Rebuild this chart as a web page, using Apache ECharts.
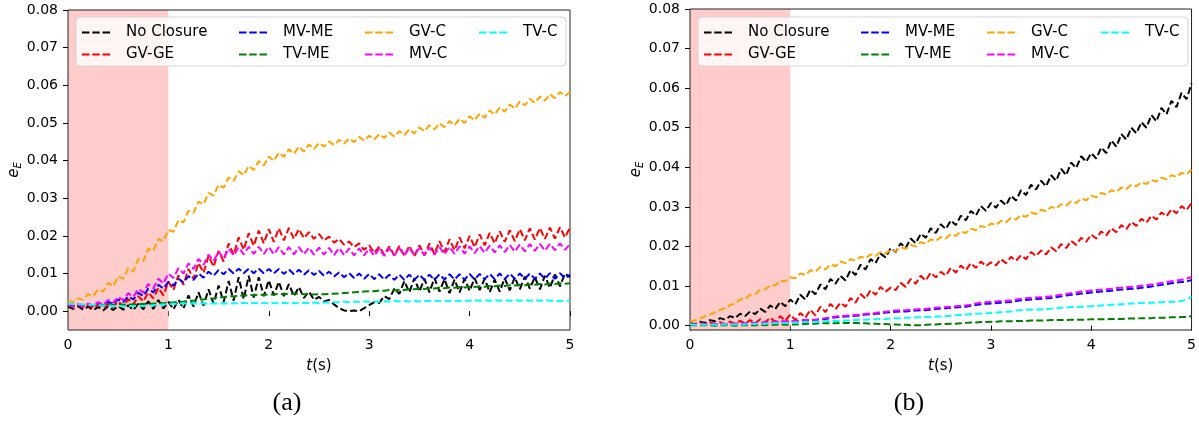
<!DOCTYPE html>
<html>
<head>
<meta charset="utf-8">
<script src="https://cdn.jsdelivr.net/npm/echarts@6/dist/echarts.min.js"></script>
<style>
  html, body { margin: 0; padding: 0; background: #fff; }
  #chart { width: 1199px; height: 425px; }
</style>
</head>
<body>
<div id="chart"></div>
<script>
// sampling grid, every 0.05 s from 0 to 5
const times = Array.from({ length: 101 }, (_, i) => +(i * 0.05).toFixed(2));
const xTicks = [0, 1, 2, 3, 4, 5];
const yTicks = [0, 0.01, 0.02, 0.03, 0.04, 0.05, 0.06, 0.07, 0.08];
const names = ['No Closure', 'GV-GE', 'MV-ME', 'TV-ME', 'GV-C', 'MV-C', 'TV-C'];
const colors = ['#000000', '#ff0000', '#0000ff', '#008000', '#ffa500', '#ff00ff', '#00ffff'];
const shadeRange = [0, 1];

// (a)
const leftNoClosure = [.0012,.0006,.0013,.0004,.0012,.0003,.0011,.0002,.0013,.0003,
  .0014,.0004,.0016,.0003,.0020,.0005,.0026,.0006,.0030,.0007,
  .0025,.0005,.0030,.0007,.0042,.0012,.0050,.0015,.0058,.0020,
  .0068,.0024,.0080,.0028,.0090,.0032,.0094,.0036,.0090,.0040,
  .0082,.0042,.0078,.0040,.0072,.0040,.0064,.0035,.0052,.0030,
  .0038,.0026,.0030,.0018,.0008,.0002,.0000,.0002,.0000,.0008,
  .0016,.0024,.0022,.0040,.0032,.0060,.0046,.0080,.0050,.0088,
  .0052,.0086,.0050,.0088,.0052,.0085,.0048,.0084,.0050,.0086,
  .0054,.0088,.0056,.0086,.0050,.0084,.0052,.0088,.0055,.0090,
  .0058,.0092,.0060,.0090,.0058,.0094,.0062,.0098,.0066,.0100,
  .0090];
const leftGVGE = [.0016,.0012,.0018,.0010,.0016,.0008,.0017,.0009,.0020,.0011,
  .0026,.0013,.0032,.0018,.0040,.0026,.0050,.0034,.0062,.0042,
  .0078,.0056,.0095,.0070,.0112,.0086,.0128,.0102,.0147,.0118,
  .0160,.0132,.0180,.0150,.0196,.0163,.0207,.0174,.0214,.0180,
  .0218,.0184,.0220,.0188,.0221,.0192,.0218,.0194,.0210,.0192,
  .0205,.0188,.0198,.0182,.0192,.0177,.0185,.0170,.0180,.0163,
  .0175,.0155,.0172,.0150,.0172,.0148,.0173,.0147,.0174,.0146,
  .0175,.0148,.0180,.0152,.0186,.0157,.0191,.0162,.0196,.0167,
  .0200,.0170,.0204,.0175,.0208,.0180,.0212,.0184,.0215,.0186,
  .0218,.0188,.0220,.0190,.0221,.0192,.0222,.0193,.0223,.0196,
  .0222];
const leftMVME = [.0017,.0014,.0018,.0013,.0019,.0014,.0021,.0016,.0025,.0019,
  .0031,.0024,.0039,.0031,.0049,.0040,.0060,.0050,.0070,.0060,
  .0078,.0068,.0086,.0076,.0093,.0083,.0100,.0089,.0105,.0094,
  .0109,.0098,.0112,.0100,.0113,.0101,.0113,.0101,.0113,.0101,
  .0112,.0100,.0112,.0099,.0111,.0098,.0110,.0097,.0109,.0096,
  .0107,.0094,.0105,.0092,.0103,.0090,.0101,.0088,.0100,.0086,
  .0099,.0085,.0098,.0084,.0097,.0083,.0097,.0083,.0097,.0083,
  .0097,.0083,.0097,.0083,.0098,.0084,.0098,.0084,.0098,.0084,
  .0099,.0084,.0099,.0085,.0099,.0085,.0100,.0085,.0100,.0086,
  .0100,.0086,.0100,.0086,.0100,.0086,.0101,.0086,.0101,.0087,
  .0097];
const leftTVME = [.0017,.0016,.0017,.0016,.0017,.0016,.0017,.0016,.0017,.0017,
  .0018,.0017,.0018,.0018,.0019,.0019,.0020,.0020,.0021,.0021,
  .0023,.0023,.0025,.0025,.0028,.0028,.0031,.0031,.0034,.0034,
  .0037,.0037,.0040,.0039,.0042,.0041,.0043,.0042,.0044,.0043,
  .0045,.0044,.0046,.0045,.0047,.0046,.0047,.0045,.0046,.0044,
  .0045,.0045,.0046,.0046,.0047,.0048,.0049,.0050,.0051,.0052,
  .0053,.0053,.0055,.0054,.0056,.0055,.0057,.0056,.0059,.0058,
  .0060,.0059,.0061,.0060,.0062,.0061,.0063,.0062,.0064,.0063,
  .0065,.0064,.0066,.0065,.0067,.0066,.0068,.0067,.0069,.0068,
  .0070,.0069,.0071,.0070,.0072,.0071,.0073,.0072,.0074,.0073,
  .0074];
const leftGVC = [.0028,.0024,.0034,.0030,.0045,.0040,.0058,.0052,.0075,.0066,
  .0093,.0086,.0114,.0106,.0139,.0133,.0166,.0160,.0192,.0186,
  .0216,.0211,.0242,.0236,.0267,.0261,.0291,.0284,.0314,.0307,
  .0336,.0328,.0355,.0346,.0372,.0361,.0386,.0375,.0399,.0387,
  .0411,.0399,.0421,.0410,.0430,.0418,.0437,.0424,.0443,.0431,
  .0447,.0437,.0451,.0441,.0455,.0445,.0459,.0449,.0463,.0453,
  .0466,.0456,.0470,.0460,.0474,.0464,.0478,.0468,.0483,.0472,
  .0488,.0478,.0494,.0483,.0499,.0489,.0505,.0494,.0511,.0500,
  .0518,.0507,.0525,.0514,.0533,.0522,.0541,.0530,.0549,.0538,
  .0557,.0547,.0564,.0553,.0570,.0559,.0576,.0566,.0582,.0571,
  .0583];
const leftMVC = [.0017,.0013,.0018,.0012,.0020,.0014,.0024,.0017,.0030,.0022,
  .0038,.0029,.0048,.0038,.0059,.0049,.0072,.0061,.0086,.0074,
  .0100,.0088,.0114,.0100,.0127,.0112,.0139,.0123,.0150,.0133,
  .0158,.0140,.0166,.0148,.0170,.0151,.0171,.0152,.0171,.0152,
  .0171,.0151,.0170,.0151,.0170,.0151,.0170,.0151,.0169,.0150,
  .0169,.0150,.0168,.0149,.0168,.0149,.0167,.0148,.0167,.0148,
  .0166,.0147,.0166,.0147,.0167,.0148,.0167,.0148,.0168,.0149,
  .0168,.0149,.0169,.0150,.0170,.0151,.0171,.0152,.0172,.0153,
  .0172,.0154,.0173,.0155,.0174,.0156,.0175,.0157,.0176,.0158,
  .0177,.0159,.0178,.0160,.0179,.0161,.0179,.0162,.0180,.0163,
  .0178];
const leftTVC = [.0020,.0019,.0019,.0018,.0017,.0017,.0016,.0015,.0015,.0014,
  .0014,.0013,.0013,.0013,.0014,.0014,.0015,.0016,.0017,.0018,
  .0019,.0020,.0020,.0021,.0020,.0021,.0020,.0021,.0020,.0021,
  .0020,.0021,.0020,.0021,.0021,.0022,.0021,.0022,.0021,.0022,
  .0021,.0022,.0021,.0022,.0021,.0022,.0021,.0022,.0022,.0023,
  .0022,.0023,.0023,.0024,.0024,.0025,.0024,.0025,.0025,.0026,
  .0025,.0026,.0025,.0026,.0026,.0027,.0026,.0027,.0026,.0027,
  .0026,.0027,.0027,.0028,.0027,.0028,.0027,.0028,.0027,.0028,
  .0028,.0029,.0028,.0029,.0028,.0029,.0028,.0029,.0028,.0029,
  .0028,.0029,.0028,.0029,.0028,.0029,.0028,.0028,.0027,.0028,
  .0028];

// (b)
const rightNoClosure = [.0006,.0004,.0010,.0007,.0014,.0011,.0019,.0015,.0024,.0019,
  .0030,.0024,.0036,.0029,.0043,.0035,.0051,.0042,.0060,.0049,
  .0066,.0054,.0078,.0066,.0091,.0079,.0104,.0092,.0118,.0106,
  .0126,.0114,.0140,.0128,.0154,.0142,.0168,.0158,.0182,.0172,
  .0196,.0186,.0208,.0196,.0220,.0208,.0232,.0222,.0246,.0234,
  .0256,.0244,.0266,.0254,.0278,.0266,.0290,.0278,.0302,.0290,
  .0310,.0298,.0316,.0304,.0328,.0316,.0342,.0330,.0356,.0344,
  .0366,.0352,.0380,.0366,.0396,.0380,.0412,.0398,.0428,.0414,
  .0436,.0422,.0450,.0436,.0468,.0452,.0484,.0470,.0500,.0486,
  .0514,.0500,.0532,.0516,.0550,.0534,.0568,.0552,.0588,.0572,
  .0612];
const rightGVGE = [.0006,.0003,.0007,.0004,.0008,.0004,.0009,.0004,.0010,.0005,
  .0012,.0005,.0014,.0006,.0016,.0008,.0020,.0010,.0024,.0012,
  .0028,.0014,.0032,.0020,.0040,.0026,.0048,.0034,.0055,.0042,
  .0058,.0048,.0070,.0058,.0080,.0068,.0090,.0078,.0098,.0086,
  .0096,.0090,.0108,.0098,.0118,.0106,.0126,.0114,.0134,.0122,
  .0136,.0126,.0146,.0134,.0152,.0140,.0158,.0146,.0162,.0150,
  .0160,.0152,.0168,.0158,.0174,.0164,.0178,.0168,.0186,.0176,
  .0190,.0180,.0198,.0188,.0206,.0196,.0214,.0204,.0222,.0212,
  .0230,.0220,.0238,.0228,.0246,.0236,.0254,.0244,.0262,.0252,
  .0270,.0260,.0278,.0268,.0286,.0276,.0294,.0284,.0302,.0292,
  .0310];
const rightMVME = [.0003,.0003,.0003,.0003,.0004,.0003,.0004,.0004,.0004,.0004,
  .0005,.0005,.0006,.0005,.0007,.0007,.0008,.0008,.0010,.0010,
  .0011,.0011,.0012,.0013,.0014,.0014,.0016,.0017,.0019,.0021,
  .0022,.0023,.0024,.0025,.0026,.0028,.0029,.0030,.0031,.0033,
  .0034,.0035,.0036,.0036,.0037,.0038,.0039,.0039,.0041,.0042,
  .0043,.0044,.0045,.0046,.0047,.0048,.0050,.0052,.0054,.0055,
  .0056,.0057,.0058,.0059,.0060,.0062,.0064,.0065,.0066,.0067,
  .0068,.0069,.0070,.0072,.0074,.0076,.0078,.0079,.0081,.0082,
  .0084,.0085,.0086,.0087,.0088,.0090,.0091,.0092,.0093,.0094,
  .0096,.0097,.0099,.0101,.0103,.0105,.0107,.0109,.0110,.0112,
  .0115];
const rightTVME = [.0001,.0001,.0001,.0001,.0001,.0000,.0001,.0001,.0001,.0000,
  .0001,.0001,.0001,.0001,.0002,.0001,.0002,.0002,.0003,.0002,
  .0003,.0003,.0004,.0004,.0005,.0005,.0006,.0006,.0006,.0006,
  .0007,.0007,.0007,.0007,.0006,.0006,.0005,.0005,.0004,.0004,
  .0003,.0003,.0002,.0002,.0001,.0001,.0001,.0002,.0003,.0003,
  .0004,.0004,.0005,.0005,.0006,.0007,.0008,.0008,.0009,.0009,
  .0010,.0010,.0011,.0011,.0011,.0012,.0012,.0012,.0013,.0013,
  .0013,.0013,.0014,.0014,.0014,.0014,.0015,.0015,.0015,.0015,
  .0016,.0016,.0016,.0016,.0017,.0017,.0017,.0018,.0018,.0018,
  .0019,.0019,.0019,.0020,.0020,.0020,.0021,.0021,.0022,.0022,
  .0024];
const rightGVC = [.0010,.0014,.0018,.0024,.0028,.0034,.0040,.0044,.0052,.0056,
  .0066,.0068,.0078,.0080,.0090,.0092,.0102,.0102,.0113,.0112,
  .0122,.0120,.0132,.0128,.0140,.0136,.0148,.0142,.0155,.0150,
  .0162,.0158,.0168,.0164,.0174,.0170,.0180,.0176,.0186,.0182,
  .0192,.0188,.0198,.0194,.0204,.0200,.0211,.0207,.0218,.0214,
  .0224,.0220,.0231,.0227,.0238,.0234,.0245,.0241,.0252,.0248,
  .0258,.0254,.0265,.0261,.0272,.0268,.0279,.0275,.0286,.0282,
  .0293,.0289,.0300,.0296,.0307,.0303,.0314,.0310,.0321,.0317,
  .0328,.0324,.0335,.0331,.0342,.0338,.0349,.0345,.0356,.0352,
  .0362,.0358,.0368,.0364,.0374,.0370,.0380,.0376,.0386,.0382,
  .0394];
const rightMVC = [.0004,.0003,.0004,.0003,.0004,.0004,.0005,.0004,.0005,.0005,
  .0006,.0005,.0007,.0006,.0008,.0008,.0009,.0009,.0011,.0011,
  .0012,.0012,.0014,.0014,.0015,.0015,.0017,.0019,.0021,.0023,
  .0024,.0025,.0026,.0027,.0028,.0030,.0031,.0032,.0034,.0035,
  .0037,.0038,.0039,.0039,.0040,.0041,.0042,.0042,.0044,.0045,
  .0046,.0047,.0048,.0049,.0050,.0051,.0053,.0056,.0058,.0059,
  .0060,.0061,.0062,.0063,.0064,.0066,.0068,.0069,.0070,.0071,
  .0072,.0073,.0074,.0076,.0078,.0080,.0082,.0084,.0086,.0087,
  .0089,.0090,.0091,.0092,.0093,.0095,.0096,.0097,.0098,.0099,
  .0101,.0102,.0104,.0106,.0108,.0110,.0112,.0114,.0116,.0119,
  .0123];
const rightTVC = [.0003,.0002,.0003,.0002,.0003,.0002,.0003,.0003,.0003,.0003,
  .0003,.0003,.0004,.0004,.0005,.0005,.0006,.0006,.0007,.0007,
  .0007,.0008,.0008,.0009,.0009,.0010,.0011,.0011,.0012,.0012,
  .0012,.0013,.0013,.0014,.0015,.0015,.0016,.0016,.0017,.0017,
  .0018,.0019,.0019,.0020,.0020,.0021,.0021,.0022,.0022,.0023,
  .0023,.0024,.0025,.0026,.0027,.0028,.0029,.0030,.0031,.0031,
  .0032,.0033,.0034,.0035,.0036,.0038,.0039,.0040,.0040,.0041,
  .0041,.0042,.0043,.0044,.0045,.0046,.0047,.0047,.0048,.0048,
  .0049,.0050,.0051,.0052,.0053,.0053,.0054,.0055,.0056,.0056,
  .0057,.0058,.0058,.0059,.0059,.0060,.0060,.0061,.0062,.0066,
  .0073];

const leftSeriesData = [leftNoClosure, leftGVGE, leftMVME, leftTVME, leftGVC, leftMVC, leftTVC];
const rightSeriesData = [rightNoClosure, rightGVGE, rightMVME, rightTVME, rightGVC, rightMVC, rightTVC];

const FONT = 'DejaVu Sans';
const grids = [
  { left: 68, top: 10, width: 502, height: 320 },
  { left: 690, top: 9, width: 502, height: 321 }
];
const yMins = [-0.005, -0.0011];
const yNameGaps = [34, 40];

function makeXAxis(gi) {
  return {
    type: 'value', gridIndex: gi, min: 0, max: 5, interval: 1,
    name: '{i|t}(s)', nameLocation: 'middle', nameGap: 29,
    nameTextStyle: {
      fontFamily: FONT, fontSize: 15, color: '#000',
      rich: { i: { fontFamily: FONT, fontSize: 15, fontStyle: 'italic', color: '#000' } }
    },
    axisLine: { show: false },
    axisTick: { show: true, length: 5, lineStyle: { color: '#000', width: 1 } },
    axisLabel: { fontFamily: FONT, fontSize: 14, color: '#000', margin: 8,
      customValues: xTicks, formatter: v => String(v) },
    splitLine: { show: false }
  };
}

function makeYAxis(gi) {
  return {
    type: 'value', gridIndex: gi, min: yMins[gi], max: 0.08,
    name: '{i|e}{s|E}', nameLocation: 'middle', nameRotate: 90, nameGap: yNameGaps[gi],
    nameTextStyle: {
      fontFamily: FONT, color: '#000',
      rich: {
        i: { fontFamily: FONT, fontSize: 15, fontStyle: 'italic', color: '#000' },
        s: { fontFamily: FONT, fontSize: 10, fontStyle: 'italic', color: '#000', padding: [7, 0, 0, 0] }
      }
    },
    axisLine: { show: false },
    axisTick: { show: true, length: 5, customValues: yTicks, lineStyle: { color: '#000', width: 1 } },
    axisLabel: { fontFamily: FONT, fontSize: 14, color: '#000', margin: 10,
      customValues: yTicks, formatter: v => v.toFixed(2) },
    splitLine: { show: false }
  };
}

function makeSeries(gi, dataSets) {
  const list = [{
    type: 'line', xAxisIndex: gi, yAxisIndex: gi, data: [], silent: true,
    markArea: {
      silent: true,
      itemStyle: { color: '#ffcccc' },
      data: [[{ xAxis: shadeRange[0] }, { xAxis: shadeRange[1] }]]
    }
  }];
  dataSets.forEach((vals, k) => {
    list.push({
      name: names[k], type: 'line', xAxisIndex: gi, yAxisIndex: gi,
      showSymbol: false, symbol: 'none', smooth: false,
      lineStyle: { color: colors[k], width: 2, type: [7, 3.2] },
      itemStyle: { color: colors[k] },
      data: times.map((t, i) => [t, vals[i]])
    });
  });
  return list;
}

// legend: 4 columns x 2 rows, filled column by column like matplotlib
const dashIcon = 'path://M0,0h7.5v2h-7.5z M10.25,0h7.5v2h-7.5z M20.5,0h7.5v2h-7.5z';
const colX = [82, 239, 365, 479];
const rowTop = [25, 47];
function makeLegends(offset) {
  return names.map((n, k) => ({
    data: [{ name: n, icon: dashIcon }],
    left: colX[Math.floor(k / 2)] + offset,
    top: rowTop[k % 2],
    padding: 0, itemGap: 0, itemWidth: 28, itemHeight: 2,
    selectedMode: false, z: 6,
    textStyle: { fontFamily: FONT, fontSize: 15, color: '#000', padding: [0, 0, 0, 11] }
  }));
}

const chart = echarts.init(document.getElementById('chart'), null, { renderer: 'canvas' });
chart.setOption({
  animation: false,
  backgroundColor: '#ffffff',
  grid: grids.map(g => Object.assign({ show: true, borderColor: '#222', borderWidth: 1, backgroundColor: 'transparent', z: 3 }, g)),
  xAxis: [makeXAxis(0), makeXAxis(1)],
  yAxis: [makeYAxis(0), makeYAxis(1)],
  legend: makeLegends(0).concat(makeLegends(622)),
  series: makeSeries(0, leftSeriesData).concat(makeSeries(1, rightSeriesData)),
  graphic: [
    { type: 'rect', z: 5, shape: { x: 76, y: 17, width: 490, height: 49, r: 4 },
      style: { fill: 'rgba(255,255,255,0.8)', stroke: '#d4d4d4', lineWidth: 1 } },
    { type: 'rect', z: 5, shape: { x: 698, y: 17, width: 490, height: 49, r: 4 },
      style: { fill: 'rgba(255,255,255,0.8)', stroke: '#d4d4d4', lineWidth: 1 } },
    { type: 'text', x: 287, y: 403, z: 5,
      style: { text: '(a)', fontFamily: 'Liberation Serif', fontSize: 26, fill: '#000', align: 'center', verticalAlign: 'middle' } },
    { type: 'text', x: 909, y: 403, z: 5,
      style: { text: '(b)', fontFamily: 'Liberation Serif', fontSize: 26, fill: '#000', align: 'center', verticalAlign: 'middle' } }
  ]
});
</script>
</body>
</html>
